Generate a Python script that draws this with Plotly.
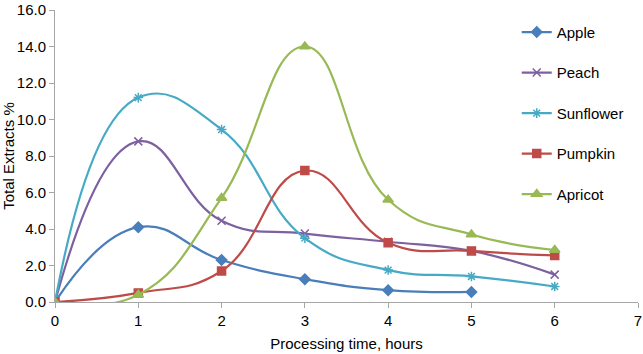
import plotly.graph_objects as go

hours = [0, 1, 2, 3, 4, 5, 6]
apple = [0.0, 4.1, 2.3, 1.25, 0.65, 0.55]
peach = [0.0, 8.8, 4.45, 3.75, 3.3, 2.8, 1.5]
sunflower = [0.0, 11.2, 9.45, 3.5, 1.75, 1.4, 0.85]
pumpkin = [0.0, 0.5, 1.7, 7.2, 3.25, 2.8, 2.55]
apricot = [0.0, 0.4, 5.7, 14.0, 5.6, 3.7, 2.85]

series = [
    ("Apple", apple, "#4A7EBB", "diamond", 8),
    ("Peach", peach, "#7D60A0", "x-thin-open", 8),
    ("Sunflower", sunflower, "#46AAC4", "asterisk-open", 8),
    ("Pumpkin", pumpkin, "#BE4B48", "square", 8),
    ("Apricot", apricot, "#98B954", "triangle-up", 9),
]

fig = go.Figure()
for i, (name, vals, color, sym, sz) in enumerate(series):
    fig.add_trace(go.Scatter(
        x=hours[:len(vals)], y=vals, name=name, mode="lines+markers",
        line=dict(color=color, width=2.2, shape="spline", smoothing=1.3),
        marker=dict(symbol=sym, size=sz, color=color,
                    line=dict(color=color, width=1.5)),
        legendgroup=f"g{i}",
    ))

axis_font = dict(family="Liberation Sans, Arial, sans-serif", size=15, color="#000000")
fig.update_layout(
    width=643, height=354,
    margin=dict(l=55, r=5, t=10, b=52),
    paper_bgcolor="white", plot_bgcolor="white",
    font=axis_font,
    showlegend=True,
    legend=dict(x=0.792, y=0.98, xanchor="left", yanchor="top",
                font=dict(size=15), tracegroupgap=18,
                bgcolor="rgba(0,0,0,0)", itemwidth=30),
    xaxis=dict(range=[0, 7], dtick=1, showgrid=False, zeroline=False,
               showline=True, linecolor="#A6A6A6", linewidth=1,
               ticks="outside", ticklen=5, tickcolor="#A6A6A6", automargin=False,
               title=dict(text="Processing time, hours", font=dict(size=15), standoff=10)),
    yaxis=dict(range=[0, 16], dtick=2, tickformat=".1f", showgrid=False,
               zeroline=False, showline=True, linecolor="#A6A6A6", linewidth=1,
               ticks="outside", ticklen=5, tickcolor="#A6A6A6", automargin=False,
               title=dict(text="Total Extracts %", font=dict(size=15), standoff=2)),
)

fig.write_html("out.html")
